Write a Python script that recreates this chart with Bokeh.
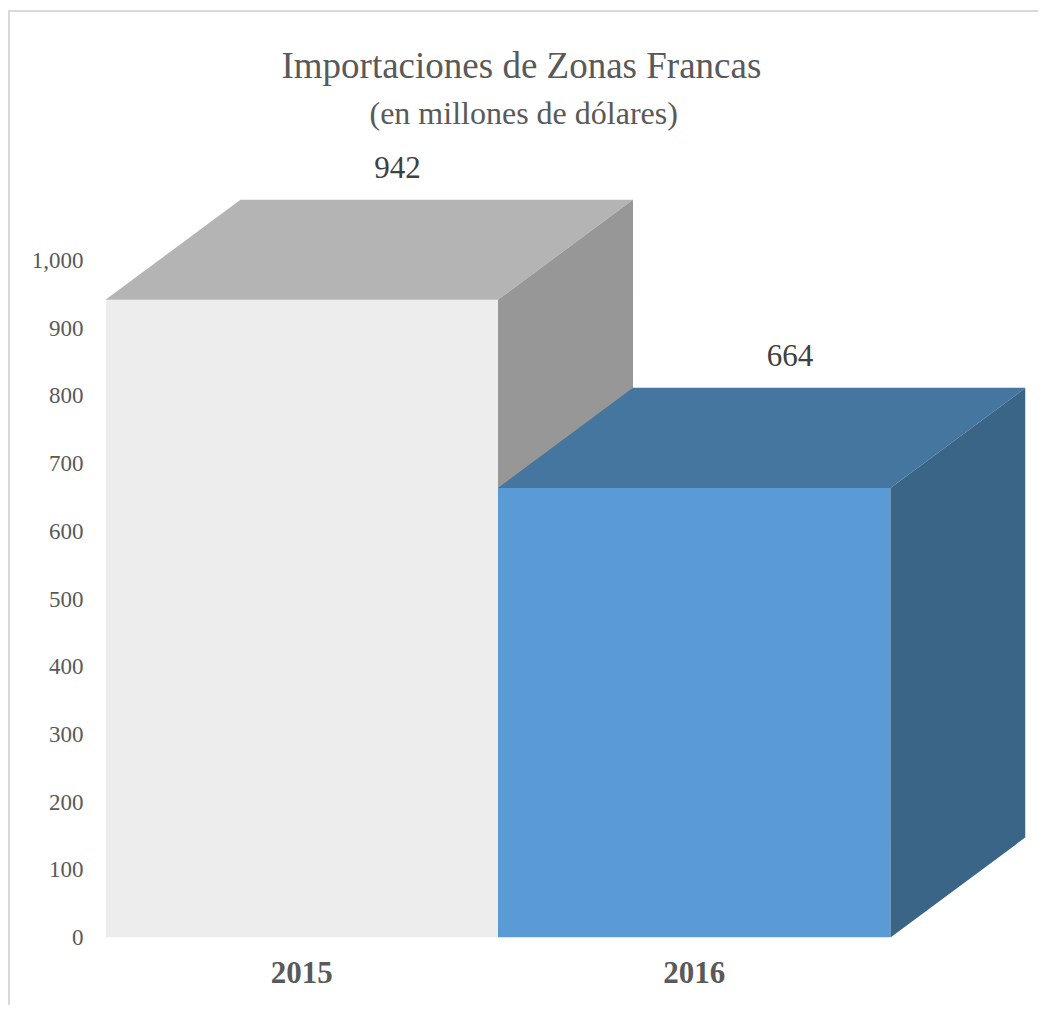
from bokeh.plotting import figure
from bokeh.models import Title, FixedTicker, Range1d, ColumnDataSource, LabelSet
from bokeh.embed import file_html
from bokeh.resources import INLINE

# ---- data ----
years = ["2015", "2016"]
values = [942, 664]
front_colors = ["#EDEDED", "#5B9BD5"]
top_colors = ["#B4B4B4", "#44769F"]
side_colors = ["#979797", "#3A6587"]
y_ticks = [0, 100, 200, 300, 400, 500, 600, 700, 800, 900, 1000]

# ---- 3D geometry (style) ----
DX = 0.344   # depth in x units
DY = 148     # depth in y units

FONT = "'Liberation Serif', 'Times New Roman', serif"
TXT = "#595959"

p = figure(width=1030, height=995, output_backend="svg", toolbar_location=None,
           x_range=Range1d(0, len(years) + DX), y_range=Range1d(0, 1170),
           min_border_left=95, min_border_right=15, min_border_bottom=70,
           min_border_top=133, title=None)
p.styles = {"border-left": "2px solid #D9D9D9", "border-top": "2px solid #D9D9D9",
            "margin-left": "8px", "margin-top": "10px"}
p.outline_line_color = None
p.xgrid.visible = False
p.ygrid.visible = False

p.add_layout(Title(text="(en millones de dólares)", align="left", text_font=FONT,
                   text_font_size="32px", text_font_style="normal", text_color=TXT,
                   offset=264, standoff=30), "above")
p.add_layout(Title(text="Importaciones de Zonas Francas", align="left", text_font=FONT,
                   text_font_size="37px", text_font_style="normal", text_color=TXT,
                   offset=176, standoff=-17), "above")

for i, v in enumerate(values):
    x0, x1 = i, i + 1
    # front
    p.patch([x0, x1, x1, x0], [0, 0, v, v], fill_color=front_colors[i], line_color=None)
    # top
    p.patch([x0, x1, x1 + DX, x0 + DX], [v, v, v + DY, v + DY],
            fill_color=top_colors[i], line_color=None)
    # side
    p.patch([x1, x1 + DX, x1 + DX, x1], [0, DY, v + DY, v],
            fill_color=side_colors[i], line_color=None)

src = ColumnDataSource(dict(x=[i + 0.5 + 0.71 * DX for i in range(len(years))],
                            y=[v + DY for v in values],
                            t=[str(v) for v in values]))
p.add_layout(LabelSet(x="x", y="y", text="t", source=src, text_align="center",
                      text_baseline="middle", y_offset=32, text_font=FONT,
                      text_font_size="31px", text_color="#404040"))

# axes
p.xaxis.ticker = FixedTicker(ticks=[i + 0.5 for i in range(len(years))])
p.xaxis.major_label_overrides = {i + 0.5: y for i, y in enumerate(years)}
p.xaxis.major_label_text_font = FONT
p.xaxis.major_label_text_font_size = "31px"
p.xaxis.major_label_text_font_style = "bold"
p.xaxis.major_label_text_color = TXT
p.xaxis.major_label_standoff = 18
p.xaxis.axis_line_color = None
p.xaxis.major_tick_line_color = None
p.xaxis.minor_tick_line_color = None

p.yaxis.ticker = FixedTicker(ticks=y_ticks)
p.yaxis.major_label_overrides = {t: f"{t:,}" for t in y_ticks}
p.yaxis.major_label_text_font = FONT
p.yaxis.major_label_text_font_size = "23px"
p.yaxis.major_label_text_color = TXT
p.yaxis.major_label_standoff = 16
p.yaxis.axis_line_color = None
p.yaxis.major_tick_line_color = None
p.yaxis.minor_tick_line_color = None

open("out.html", "w").write(file_html(p, INLINE))
